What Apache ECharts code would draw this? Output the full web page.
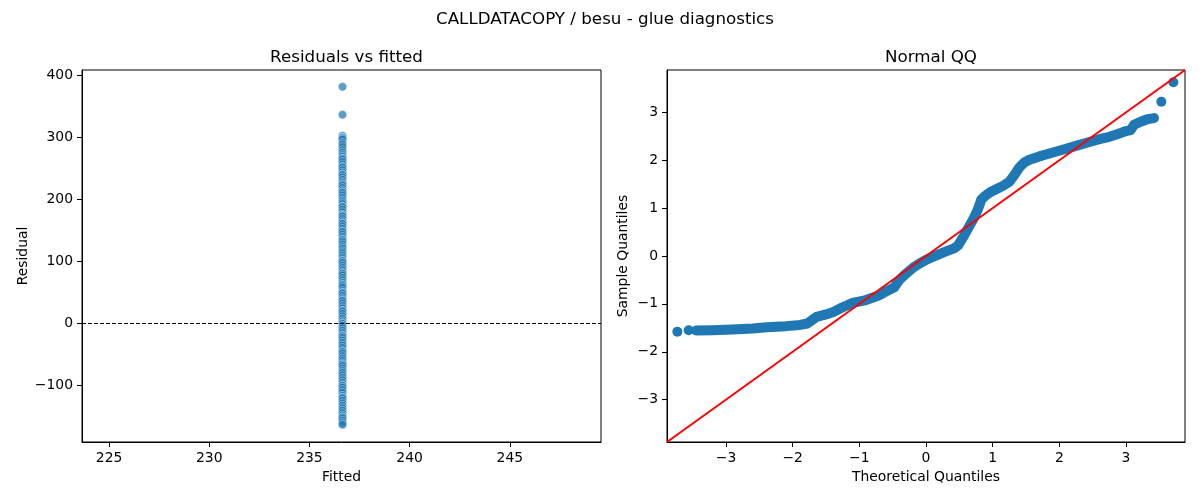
<!DOCTYPE html>
<html>
<head>
<meta charset="utf-8">
<script src="https://cdn.jsdelivr.net/npm/echarts@6/dist/echarts.min.js"></script>
<style>
  html, body { margin: 0; padding: 0; background: #fff; }
  #main { width: 1200px; height: 500px; }
</style>
</head>
<body>
<div id="main"></div>
<script>
/* ---------- data ---------- */
const figTitle = 'CALLDATACOPY / besu - glue diagnostics';
const leftTitle = 'Residuals vs fitted';
const rightTitle = 'Normal QQ';

// every point has the same fitted value
const fittedValue = 236.65;
const residuals = [381, 336, 302, 299, 298, 296, 291, 288, 284, 279, 275, 271, 268, 265, 264, 260,
  256, 252, 251, 247, 243, 240, 239, 235, 231, 227, 224, 222, 218, 214, 211, 210, 206, 202, 198,
  195, 192, 188, 187, 183, 179, 175, 173, 172, 168, 164, 161, 160, 156, 152, 148, 147, 143, 139,
  135, 134, 131, 127, 123, 120, 116, 113, 109, 105, 101, 100, 97, 93, 89, 85, 81, 80, 77, 73, 69,
  65, 62, 60, 57, 52, 49, 48, 44, 40, 37, 36, 32, 28, 24, 20, 19, 15, 11, 7, 3, 0, -1, -4, -8,
  -12, -16, -20, -21, -24, -28, -32, -36, -40, -45, -46, -49, -53, -57, -61, -65, -67, -69, -73,
  -77, -80, -84, -88, -92, -96, -100, -101, -104, -108, -112, -117, -120, -121, -125, -129, -133,
  -137, -141, -145, -149, -152, -153, -157, -161, -164];

// dense part of the QQ cloud (traced along its centre)
const qqTheoretical = [-3.45, -3.2, -2.9, -2.6, -2.39, -2.1, -1.89, -1.78, -1.70, -1.64, -1.50,
  -1.39, -1.25, -1.10, -0.90, -0.70, -0.60, -0.48, -0.40, -0.30, -0.19, -0.10, 0.00, 0.10, 0.20,
  0.31, 0.42, 0.48, 0.53, 0.58, 0.66, 0.72, 0.78, 0.83, 0.90, 0.96, 1.06, 1.16, 1.25, 1.32, 1.40,
  1.47, 1.55, 1.70, 1.85, 2.05, 2.25, 2.45, 2.60, 2.75, 2.90, 3.00, 3.07, 3.12, 3.18, 3.25, 3.33, 3.42];
const qqSample = [-1.555, -1.55, -1.535, -1.515, -1.49, -1.465, -1.44, -1.41, -1.33, -1.27, -1.22,
  -1.17, -1.07, -0.98, -0.92, -0.82, -0.74, -0.66, -0.50, -0.37, -0.24, -0.16, -0.08, -0.02, 0.04,
  0.10, 0.16, 0.22, 0.33, 0.45, 0.65, 0.80, 0.98, 1.18, 1.27, 1.33, 1.40, 1.47, 1.55, 1.68, 1.85,
  1.95, 2.01, 2.08, 2.14, 2.22, 2.30, 2.38, 2.44, 2.49, 2.56, 2.61, 2.63, 2.74, 2.78, 2.82, 2.86, 2.88];
// isolated tail points
const qqTailTheoretical = [-3.73, -3.56, 3.53, 3.71];
const qqTailSample = [-1.58, -1.55, 3.22, 3.63];

// axis limits and ticks
const fittedRange = [223.65, 249.55];
const residualRange = [-191.8, 408];
const qqRange = [-3.885, 3.885];
const fittedTicks = [225, 230, 235, 240, 245];
const residualTicks = [-100, 0, 100, 200, 300, 400];
const qqTicks = [-3, -2, -1, 0, 1, 2, 3];

/* ---------- chart ---------- */
const FONT = 'DejaVu Sans';
const minus = v => String(v).replace('-', '\u2212');

function axis(opt) {
  return {
    type: 'value',
    min: opt.range[0],
    max: opt.range[1],
    gridIndex: opt.grid,
    name: opt.name,
    nameLocation: 'middle',
    nameGap: opt.nameGap,
    nameTextStyle: { fontFamily: FONT, fontSize: 13.9, color: '#000' },
    axisLine: { show: true, onZero: false, lineStyle: { color: '#000', width: 1 } },
    axisTick: { show: true, length: 5, customValues: opt.ticks, lineStyle: { color: '#000', width: 1 } },
    axisLabel: { margin: 9, customValues: opt.ticks, formatter: minus,
                 fontFamily: FONT, fontSize: 13.9, color: '#000' },
    splitLine: { show: false }
  };
}

const titleStyle = { fontFamily: FONT, fontSize: 16.7, fontWeight: 'normal', color: '#000' };

const chart = echarts.init(document.getElementById('main'), null, { renderer: 'canvas' });

chart.setOption({
  animation: false,
  backgroundColor: '#fff',
  title: [
    { text: figTitle, left: 600, top: 6, textAlign: 'center', textStyle: titleStyle },
    { text: leftTitle, left: 341.5, top: 44, textAlign: 'center', textStyle: titleStyle },
    { text: rightTitle, left: 926, top: 44, textAlign: 'center', textStyle: titleStyle }
  ],
  grid: [
    { left: 82, right: 599, top: 70, bottom: 58, show: true, borderColor: '#000', borderWidth: 1 },
    { left: 667, right: 15, top: 70, bottom: 58, show: true, borderColor: '#000', borderWidth: 1 }
  ],
  xAxis: [
    axis({ grid: 0, range: fittedRange, ticks: fittedTicks, name: 'Fitted', nameGap: 28 }),
    axis({ grid: 1, range: qqRange, ticks: qqTicks, name: 'Theoretical Quantiles', nameGap: 28 })
  ],
  yAxis: [
    axis({ grid: 0, range: residualRange, ticks: residualTicks, name: 'Residual', nameGap: 52 }),
    axis({ grid: 1, range: qqRange, ticks: qqTicks, name: 'Sample Quantiles', nameGap: 37 })
  ],
  series: [
    {
      type: 'scatter',
      xAxisIndex: 0, yAxisIndex: 0,
      data: residuals.map(r => [fittedValue, r]),
      symbolSize: 8.5,
      itemStyle: { color: '#1f77b4', opacity: 0.72, borderColor: '#fff', borderWidth: 0.6 },
      markLine: {
        silent: true, symbol: 'none', label: { show: false },
        lineStyle: { color: '#000', width: 1, type: [4, 2] },
        data: [{ yAxis: 0 }]
      }
    },
    {
      type: 'line',
      xAxisIndex: 1, yAxisIndex: 1,
      data: qqTheoretical.map((t, i) => [t, qqSample[i]]),
      showSymbol: false,
      lineStyle: { color: '#1f77b4', width: 10, cap: 'round', join: 'round' }
    },
    {
      type: 'scatter',
      xAxisIndex: 1, yAxisIndex: 1,
      data: qqTailTheoretical.map((t, i) => [t, qqTailSample[i]]),
      symbolSize: 10,
      itemStyle: { color: '#1f77b4', opacity: 1 }
    },
    {
      // 45-degree reference line, corner to corner
      type: 'line',
      xAxisIndex: 1, yAxisIndex: 1,
      data: [[qqRange[0], qqRange[0]], [qqRange[1], qqRange[1]]],
      showSymbol: false,
      lineStyle: { color: '#ff0000', width: 2 }
    }
  ]
});
</script>
</body>
</html>
